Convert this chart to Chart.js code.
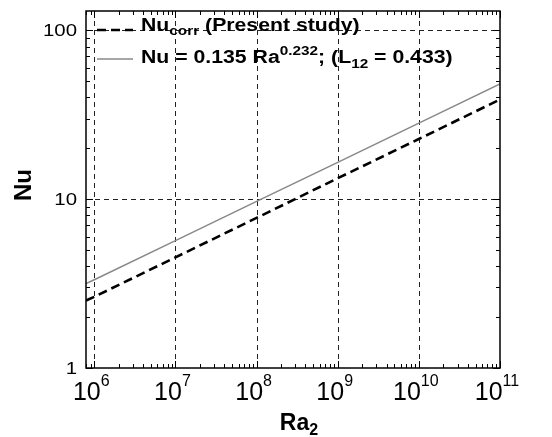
<!DOCTYPE html>
<html>
<head>
<meta charset="utf-8">
<script src="https://cdn.jsdelivr.net/npm/chart.js@4"></script>
<style>
  html, body { margin: 0; padding: 0; background: #fff; }
  #wrap { width: 552px; height: 437px; }
</style>
</head>
<body>
<div id="wrap"><canvas id="nuChart" width="552" height="437"></canvas></div>
<script>
// data (log-log)
const raValues = [7.9e5, 1e6, 1e7, 1e8, 1e9, 1e10, 1e11];
const nuCorr = [2.51, 2.64, 4.52, 7.74, 13.3, 22.7, 38.9];
const nuFit = [3.16, 3.33, 5.68, 9.7, 16.5, 28.2, 48.1];
const xTickExps = [6, 7, 8, 9, 10, 11];
const yTickValues = [1, 10, 100];
const yTickLabels = ['1', '10', '100'];
const xRange = [7.9e5, 1e11];
const yRange = [1, 130];

const FONT = '"Liberation Sans", Arial, Helvetica, sans-serif';

// draws text pieces one after another; dy shifts sub/superscripts
function drawRich(ctx, x, y, parts, sx) {
    sx = sx || 1;
    let cx = x;
    parts.forEach(p => {
        ctx.font = (p.bold ? 'bold ' : '') + p.size + 'px ' + FONT;
        ctx.save();
        ctx.translate(cx, y + (p.dy || 0));
        ctx.scale(sx, 1);
        ctx.fillText(p.text, 0, 0);
        ctx.restore();
        cx += ctx.measureText(p.text).width * sx;
    });
    return cx - x;
}

function richWidth(ctx, parts, sx) {
    let w = 0;
    parts.forEach(p => {
        ctx.font = (p.bold ? 'bold ' : '') + p.size + 'px ' + FONT;
        w += ctx.measureText(p.text).width;
    });
    return w * (sx || 1);
}

const axesPlugin = {
    id: 'axesPlugin',
    beforeDatasetsDraw(chart) {
        const { ctx, chartArea: a, scales: { x, y } } = chart;
        ctx.save();
        ctx.strokeStyle = '#222';
        ctx.lineWidth = 1;
        ctx.setLineDash([5, 4]);
        xTickExps.forEach(e => {
            const v = Math.pow(10, e);
            if (v >= xRange[1]) return;
            const px = Math.round(x.getPixelForValue(v)) + 0.5;
            ctx.beginPath();
            ctx.moveTo(px, a.bottom);
            ctx.lineTo(px, a.top);
            ctx.stroke();
        });
        yTickValues.forEach(v => {
            if (v <= yRange[0]) return;
            const py = Math.round(y.getPixelForValue(v)) + 0.5;
            ctx.beginPath();
            ctx.moveTo(a.left, py);
            ctx.lineTo(a.right, py);
            ctx.stroke();
        });
        ctx.restore();
    },
    afterDatasetsDraw(chart) {
        const { ctx, chartArea: a, scales: { x, y } } = chart;
        ctx.save();
        ctx.strokeStyle = '#000';
        ctx.lineWidth = 1;
        ctx.setLineDash([]);

        // minor + major ticks, inside, on all four sides
        for (let e = 5; e <= 11; e++) {
            for (let m = 1; m <= 9; m++) {
                const v = m * Math.pow(10, e);
                if (v < xRange[0] || v > xRange[1]) continue;
                const px = Math.round(x.getPixelForValue(v)) + 0.5;
                const len = m === 1 ? 7 : 4;
                ctx.beginPath();
                ctx.moveTo(px, a.bottom); ctx.lineTo(px, a.bottom - len);
                ctx.moveTo(px, a.top); ctx.lineTo(px, a.top + len);
                ctx.stroke();
            }
        }
        for (let e = 0; e <= 2; e++) {
            for (let m = 1; m <= 9; m++) {
                const v = m * Math.pow(10, e);
                if (v < yRange[0] || v > yRange[1]) continue;
                const py = Math.round(y.getPixelForValue(v)) + 0.5;
                const len = m === 1 ? 7 : 4;
                ctx.beginPath();
                ctx.moveTo(a.left, py); ctx.lineTo(a.left + len, py);
                ctx.moveTo(a.right, py); ctx.lineTo(a.right - len, py);
                ctx.stroke();
            }
        }

        // frame
        ctx.lineWidth = 1.5;
        ctx.strokeRect(a.left, a.top, a.right - a.left, a.bottom - a.top);

        ctx.fillStyle = '#000';
        ctx.textBaseline = 'alphabetic';
        ctx.textAlign = 'left';

        // y tick labels
        yTickValues.forEach((v, i) => {
            const py = y.getPixelForValue(v);
            const parts = [{ text: yTickLabels[i], size: 17 }];
            const w = richWidth(ctx, parts, 1.2);
            drawRich(ctx, 77 - w, py + 6, parts, 1.2);
        });

        // x tick labels 10^n
        xTickExps.forEach(e => {
            const px = x.getPixelForValue(Math.pow(10, e));
            const parts = [
                { text: '10', size: 25 },
                { text: String(e), size: 16, dy: -14 }
            ];
            const w = richWidth(ctx, parts);
            drawRich(ctx, px - w / 2 - 3, 400, parts);
        });

        // x title Ra_2
        const xt = [
            { text: 'Ra', size: 23, bold: true },
            { text: '2', size: 16, bold: true, dy: 5 }
        ];
        drawRich(ctx, 299 - richWidth(ctx, xt) / 2, 430, xt);

        // y title Nu
        ctx.save();
        ctx.translate(31, 185);
        ctx.rotate(-Math.PI / 2);
        ctx.font = 'bold 24px ' + FONT;
        ctx.textAlign = 'center';
        ctx.fillText('Nu', 0, 0);
        ctx.restore();

        // legend
        ctx.lineWidth = 2.6;
        ctx.strokeStyle = '#000';
        ctx.setLineDash([9, 5]);
        ctx.beginPath();
        ctx.moveTo(97, 30); ctx.lineTo(133, 30);
        ctx.stroke();
        ctx.lineWidth = 1.5;
        ctx.strokeStyle = '#888';
        ctx.setLineDash([]);
        ctx.beginPath();
        ctx.moveTo(97, 59); ctx.lineTo(133, 59);
        ctx.stroke();

        drawRich(ctx, 141, 31, [
            { text: 'Nu', size: 18, bold: true },
            { text: 'corr', size: 13, bold: true, dy: 4 },
            { text: ' (Present study)', size: 18, bold: true }
        ], 1.18);
        drawRich(ctx, 141, 63, [
            { text: 'Nu = 0.135 Ra', size: 18, bold: true },
            { text: '0.232', size: 13, bold: true, dy: -8 },
            { text: '; (L', size: 18, bold: true },
            { text: '12', size: 13, bold: true, dy: 5 },
            { text: ' = 0.433)', size: 18, bold: true }
        ], 1.18);
        ctx.restore();
    }
};

const ctx = document.getElementById('nuChart').getContext('2d');
new Chart(ctx, {
    type: 'line',
    data: {
        datasets: [
            {
                label: 'Nu_corr (Present study)',
                data: raValues.map((r, i) => ({ x: r, y: nuCorr[i] })),
                borderColor: '#000',
                borderWidth: 2.6,
                borderDash: [9, 5],
                pointRadius: 0,
                fill: false
            },
            {
                label: 'Nu = 0.135 Ra^0.232; (L12 = 0.433)',
                data: raValues.map((r, i) => ({ x: r, y: nuFit[i] })),
                borderColor: '#888',
                borderWidth: 1.5,
                pointRadius: 0,
                fill: false
            }
        ]
    },
    options: {
        responsive: false,
        animation: false,
        layout: { padding: { left: 86, right: 52, top: 11, bottom: 69 } },
        plugins: {
            legend: { display: false },
            tooltip: { enabled: false }
        },
        scales: {
            x: { type: 'logarithmic', min: xRange[0], max: xRange[1], display: false },
            y: { type: 'logarithmic', min: yRange[0], max: yRange[1], display: false }
        }
    },
    plugins: [axesPlugin]
});
</script>
</body>
</html>
